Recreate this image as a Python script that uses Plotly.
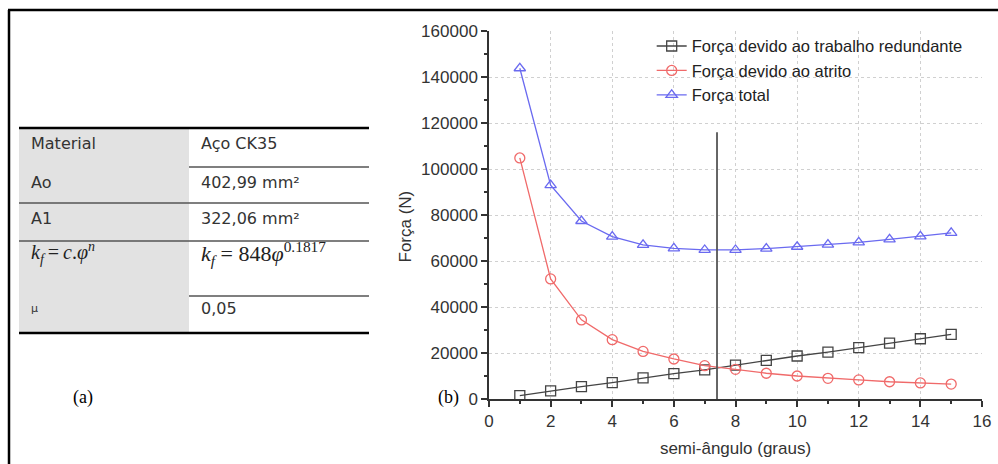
import plotly.graph_objects as go

# ---- data ----
angles = list(range(1, 16))
forca_redundante = [1500, 3500, 5400, 7100, 9200, 11000, 12700, 14700, 16800, 18700, 20400, 22300, 24300, 26200, 28100]
forca_atrito = [104800, 52200, 34400, 25800, 20700, 17400, 14500, 12900, 11200, 10000, 9000, 8300, 7500, 7000, 6500]
forca_total = [143800, 93000, 77400, 70600, 67000, 65500, 64800, 64800, 65400, 66200, 67100, 68100, 69400, 70700, 72200]
series_names = ["Força devido ao trabalho redundante", "Força devido ao atrito", "Força total"]
vline_x = 7.4
vline_top = 116000

table_left = ["Material", "Ao", "A1", "<i>k</i><sub><i>f</i></sub>\u2009=\u2009<i>c</i>.<i>φ</i><sup><i>n</i></sup>", "μ"]
table_right = ["Aço CK35", "402,99 mm²", "322,06 mm²", "<i>k</i><sub><i>f</i></sub> = 848<i>φ</i><sup>0.1817</sup>", "0,05"]

W, H = 998, 464
L, R, T, B = 489, 16, 31, 65
PW, PH = W - L - R, H - T - B

def px(x):
    return (x - L) / PW

def py(y):
    return (H - B - y) / PH

fig = go.Figure()
colors = ["#444444", "#f06a6a", "#6a6af0"]
symbols = ["square-open", "circle-open", "triangle-up-open"]
for name, vals, c, s in zip(series_names, [forca_redundante, forca_atrito, forca_total], colors, symbols):
    fig.add_trace(go.Scatter(x=angles, y=vals, name=name, mode="lines+markers",
                             line=dict(color=c, width=1.3),
                             marker=dict(symbol=s, size=10, color=c, line=dict(color=c, width=1.3))))

fig.add_trace(go.Scatter(x=[vline_x, vline_x], y=[0, vline_top], mode="lines",
                         line=dict(color="#555555", width=1.8), showlegend=False, hoverinfo="skip"))

shapes = []
# outer frame (top and left)
shapes.append(dict(type="line", xref="paper", yref="paper", x0=px(8), x1=px(999), y0=py(10), y1=py(10),
                   line=dict(color="black", width=2.5)))
shapes.append(dict(type="line", xref="paper", yref="paper", x0=px(9), x1=px(9), y0=py(10), y1=py(465),
                   line=dict(color="black", width=2.5)))
# table
shapes.append(dict(type="rect", xref="paper", yref="paper", x0=px(19), x1=px(189), y0=py(128), y1=py(333),
                   fillcolor="#e2e2e2", line=dict(width=0), layer="below"))
for y, x0, w, c in [(128, 19, 2.5, "black"), (167, 189, 1.5, "#555"), (203, 19, 1.5, "#555"),
                    (241, 19, 1.5, "#555"), (296, 189, 1.5, "#555"), (333, 19, 2.5, "black")]:
    shapes.append(dict(type="line", xref="paper", yref="paper", x0=px(x0), x1=px(369), y0=py(y), y1=py(y),
                       line=dict(color=c, width=w)))

annotations = []
row_y = [143, 182, 218, 253, 308]
for i, (lt, rt, y) in enumerate(zip(table_left, table_right, row_y)):
    if i == 3:
        fnt_l = dict(family="Liberation Serif", size=20, color="#222")
        fnt_r = dict(family="Liberation Serif", size=22, color="#222")
    else:
        fnt_r = dict(family="DejaVu Sans", size=16, color="#333")
        fnt_l = dict(family="DejaVu Sans", size=11 if i == 4 else 16, color="#333")
    annotations.append(dict(xref="paper", yref="paper", x=px(29), y=py(y), text=lt, showarrow=False,
                            xanchor="left", yanchor="middle", font=fnt_l))
    annotations.append(dict(xref="paper", yref="paper", x=px(199), y=py(y), text=rt, showarrow=False,
                            xanchor="left", yanchor="middle", font=fnt_r))
annotations.append(dict(xref="paper", yref="paper", x=px(71), y=py(410), text="(a)", showarrow=False,
                        font=dict(family="Liberation Serif", size=18, color="black")))
annotations.append(dict(xref="paper", yref="paper", x=px(436), y=py(410), text="(b)", showarrow=False,
                        font=dict(family="Liberation Serif", size=18, color="black")))
# y-axis title
annotations.append(dict(xref="paper", yref="paper", x=px(394), y=py(227), text="Força (N)", showarrow=False,
                        textangle=-90, font=dict(family="Liberation Sans", size=17, color="#333")))

fig.update_layout(
    width=W, height=H,
    margin=dict(l=L, r=R, t=T, b=B, autoexpand=False),
    paper_bgcolor="white", plot_bgcolor="white",
    font=dict(family="Liberation Sans", size=17, color="#333"),
    shapes=shapes, annotations=annotations,
    legend=dict(x=0.33, y=1.006, xanchor="left", yanchor="top", bgcolor="rgba(0,0,0,0)",
                font=dict(size=16.5, color="#222"), tracegroupgap=0, itemwidth=30),
    showlegend=True,
)
fig.update_xaxes(range=[0, 16], dtick=2, showline=True, linecolor="#333", linewidth=1.5,
                 ticks="outside", ticklen=6, tickcolor="#333", tickwidth=1.5,
                 minor=dict(dtick=1, ticks="outside", ticklen=3, tickcolor="#333", showgrid=False),
                 showgrid=True, gridcolor="#d0d0d0", griddash="dot", gridwidth=1, zeroline=False,
                 title=dict(text="semi-ângulo (graus)", font=dict(size=17, color="#333"), standoff=12))
fig.update_yaxes(range=[0, 160000], dtick=20000, tickformat="d", showline=True, linecolor="#333", linewidth=1.5,
                 ticks="outside", ticklen=6, tickcolor="#333", tickwidth=1.5,
                 minor=dict(dtick=10000, ticks="outside", ticklen=3, tickcolor="#333", showgrid=False),
                 showgrid=True, gridcolor="#d0d0d0", griddash="dot", gridwidth=1, zeroline=False)

fig.write_html("out.html", config={"displayModeBar": False},
               post_script="document.body.style.margin='0';document.body.style.overflow='hidden';")
